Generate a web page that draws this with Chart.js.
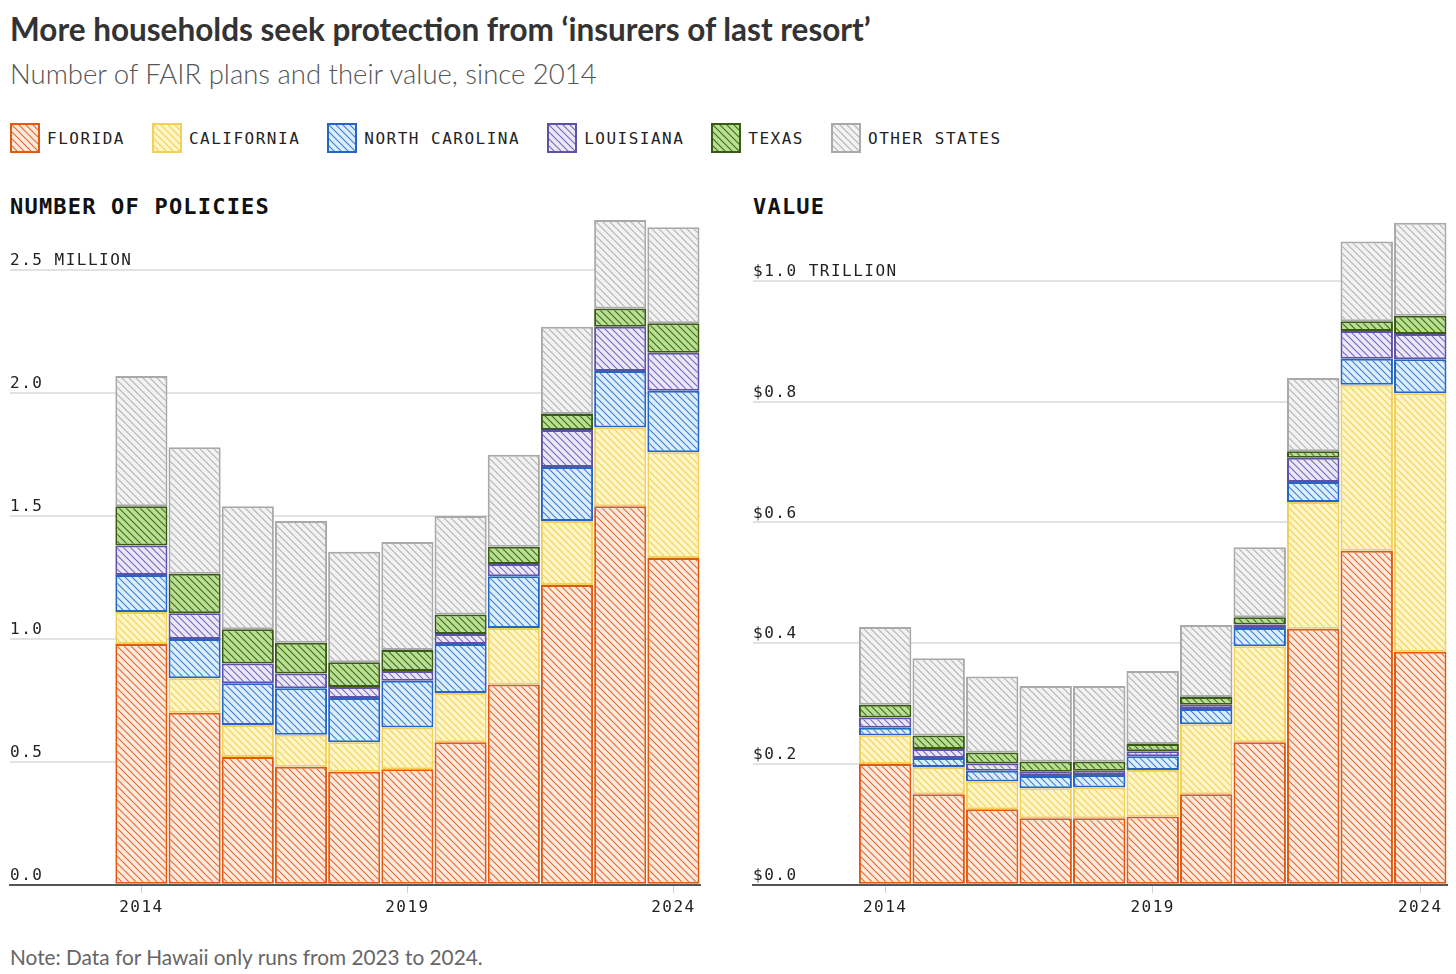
<!DOCTYPE html>
<html>
<head>
<meta charset="utf-8">
<script src="https://cdn.jsdelivr.net/npm/chart.js@4.4.1/dist/chart.umd.min.js"></script>
<style>
  body { margin: 0; width: 1456px; height: 974px; background: #fff; position: relative; overflow: hidden; font-family: Lato, "Noto Sans", sans-serif; }
  .title { position: absolute; left: 10px; top: 10px; font-size: 31.5px; font-weight: 700; color: #333; line-height: 38px; white-space: nowrap; }
  .subtitle { position: absolute; left: 10px; top: 57px; font-size: 27.5px; font-weight: 300; color: #555; line-height: 34px; white-space: nowrap; }
  .legend { position: absolute; left: 10px; top: 123px; display: flex; gap: 27px; font-family: "DejaVu Sans Mono", monospace; font-size: 16px; letter-spacing: 1.5px; color: #222; }
  .legend .item { display: flex; align-items: center; gap: 7px; }
  .legend canvas { width: 30px; height: 30px; display: block; }
  .head { position: absolute; top: 193px; font-family: "DejaVu Sans Mono", monospace; font-size: 22px; font-weight: 700; letter-spacing: 1.2px; color: #111; line-height: 28px; }
  .box { position: absolute; top: 200px; height: 722px; }
  .note { position: absolute; left: 10px; top: 944px; font-size: 20.8px; color: #666; line-height: 26px; }
</style>
</head>
<body>
<div class="title">More households seek protection from ‘insurers of last resort’</div>
<div class="subtitle">Number of FAIR plans and their value, since 2014</div>
<div class="legend" id="legend"></div>
<div class="head" style="left:10px">NUMBER OF POLICIES</div>
<div class="head" style="left:753px">VALUE</div>
<div class="box" style="left:0px;width:712px"><canvas id="chartPolicies"></canvas></div>
<div class="box" style="left:743px;width:713px"><canvas id="chartValue"></canvas></div>
<div class="note">Note: Data for Hawaii only runs from 2023 to 2024.</div>

<script>
// años
const years = [2014, 2015, 2016, 2017, 2018, 2019, 2020, 2021, 2022, 2023, 2024];
const states = ['FLORIDA', 'CALIFORNIA', 'NORTH CAROLINA', 'LOUISIANA', 'TEXAS', 'OTHER STATES'];

// numero de polizas (millones)
const policiesFlorida  = [0.98, 0.70, 0.52, 0.48, 0.46, 0.47, 0.58, 0.815, 1.22, 1.54, 1.33];
const policiesCalif    = [0.13, 0.14, 0.13, 0.13, 0.12, 0.17, 0.20, 0.23, 0.26, 0.32, 0.43];
const policiesNCarol   = [0.15, 0.16, 0.17, 0.19, 0.18, 0.19, 0.20, 0.21, 0.22, 0.23, 0.25];
const policiesLouis    = [0.12, 0.105, 0.08, 0.06, 0.045, 0.04, 0.04, 0.05, 0.15, 0.18, 0.155];
const policiesTexas    = [0.16, 0.16, 0.14, 0.125, 0.10, 0.085, 0.08, 0.07, 0.065, 0.075, 0.12];
const policiesOther    = [0.53, 0.515, 0.50, 0.495, 0.45, 0.44, 0.40, 0.375, 0.355, 0.36, 0.39];

// valor (billones de dolares / trillions)
const valueFlorida = [0.20, 0.15, 0.125, 0.11, 0.11, 0.113, 0.15, 0.236, 0.424, 0.553, 0.386];
const valueCalif   = [0.047, 0.045, 0.046, 0.05, 0.051, 0.077, 0.116, 0.159, 0.21, 0.275, 0.428];
const valueNCarol  = [0.013, 0.015, 0.018, 0.02, 0.021, 0.023, 0.025, 0.03, 0.033, 0.043, 0.056];
const valueLouis   = [0.017, 0.015, 0.012, 0.007, 0.007, 0.008, 0.007, 0.006, 0.04, 0.046, 0.042];
const valueTexas   = [0.021, 0.022, 0.018, 0.017, 0.015, 0.012, 0.013, 0.012, 0.011, 0.016, 0.03];
const valueOther   = [0.129, 0.128, 0.126, 0.125, 0.125, 0.121, 0.119, 0.116, 0.121, 0.132, 0.154];

// ticks
const policyTicks = [0, 0.5, 1, 1.5, 2, 2.5];
const policyTickLabels = ['0.0', '0.5', '1.0', '1.5', '2.0', '2.5 MILLION'];
const valueTicks = [0, 0.2, 0.4, 0.6, 0.8, 1.0];
const valueTickLabels = ['$0.0', '$0.2', '$0.4', '$0.6', '$0.8', '$1.0 TRILLION'];
const yearTicks = [2014, 2019, 2024];

// colores: fondo, rayado, borde
const palette = [
  ['#fdeadf', '#e8682c', '#e05a12'],
  ['#fff6c8', '#f2cf52', '#f3d05a'],
  ['#ddeffe', '#3b7fd4', '#2566c4'],
  ['#ebe8fa', '#7668c0', '#5e51a8'],
  ['#b9df90', '#3d6a1c', '#3a5a18'],
  ['#f2f2f2', '#b2b2b2', '#a9a9a9']
];

function hatch(bg, line) {
  const s = 7;
  const c = document.createElement('canvas');
  c.width = s; c.height = s;
  const g = c.getContext('2d');
  g.fillStyle = bg;
  g.fillRect(0, 0, s, s);
  g.strokeStyle = line;
  g.lineWidth = 1.1;
  g.beginPath();
  g.moveTo(-1, -1); g.lineTo(s + 1, s + 1);
  g.moveTo(s - 1, -1); g.lineTo(s + 1, 1);
  g.moveTo(-1, s - 1); g.lineTo(1, s + 1);
  g.stroke();
  return g.createPattern(c, 'repeat');
}

const patterns = palette.map(p => hatch(p[0], p[1]));

// leyenda
const legend = document.getElementById('legend');
states.forEach((name, i) => {
  const item = document.createElement('div');
  item.className = 'item';
  const sw = document.createElement('canvas');
  sw.width = 30; sw.height = 30;
  const g = sw.getContext('2d');
  g.fillStyle = patterns[i];
  g.fillRect(0, 0, 30, 30);
  g.strokeStyle = palette[i][2];
  g.lineWidth = 2;
  g.strokeRect(1, 1, 28, 28);
  item.appendChild(sw);
  const t = document.createElement('span');
  t.textContent = name;
  item.appendChild(t);
  legend.appendChild(item);
});

const spacing = {
  id: 'spacing',
  beforeDraw(chart) { chart.ctx.letterSpacing = '1.5px'; }
};

function renderStack(canvasId, series, yMax, tickValues, tickLabels, padRight) {
  const ctx = document.getElementById(canvasId).getContext('2d');
  new Chart(ctx, {
    type: 'bar',
    data: {
      datasets: series.map((vals, i) => ({
        label: states[i],
        data: years.map((y, k) => ({ x: y, y: vals[k] })),
        backgroundColor: patterns[i],
        borderColor: palette[i][2],
        borderWidth: 2,
        borderSkipped: false,
        barPercentage: 0.98,
        categoryPercentage: 1
      }))
    },
    options: {
      responsive: true,
      maintainAspectRatio: false,
      animation: false,
      layout: { padding: { left: 10, right: padRight, top: 15, bottom: 0 } },
      plugins: { legend: { display: false }, tooltip: { enabled: false } },
      scales: {
        x: {
          type: 'linear',
          stacked: true,
          offset: false,
          min: 2011.53,
          max: 2024.5,
          afterBuildTicks: s => { s.ticks = yearTicks.map(v => ({ value: v })); },
          grid: { offset: false, drawOnChartArea: false, drawTicks: true, tickLength: 8, color: '#cfcfcf' },
          border: { display: true, color: '#555', width: 2 },
          ticks: {
            padding: 5,
            color: '#222',
            font: { family: 'DejaVu Sans Mono', size: 16 },
            callback: v => String(v)
          }
        },
        y: {
          stacked: true,
          min: 0,
          max: yMax,
          afterBuildTicks: s => { s.ticks = tickValues.map(v => ({ value: v })); },
          grid: {
            drawTicks: false,
            lineWidth: 2,
            color: c => (c.tick && c.tick.value === 0 ? '#555' : '#e2e2e2')
          },
          border: { display: false },
          ticks: {
            mirror: true,
            padding: 0,
            labelOffset: -9,
            color: '#222',
            font: { family: 'DejaVu Sans Mono', size: 16 },
            callback: v => tickLabels[tickValues.indexOf(v)]
          }
        }
      }
    },
    plugins: [spacing]
  });
}

renderStack('chartPolicies',
  [policiesFlorida, policiesCalif, policiesNCarol, policiesLouis, policiesTexas, policiesOther],
  2.725, policyTicks, policyTickLabels, 12);

renderStack('chartValue',
  [valueFlorida, valueCalif, valueNCarol, valueLouis, valueTexas, valueOther],
  1.109, valueTicks, valueTickLabels, 9);
</script>
</body>
</html>
